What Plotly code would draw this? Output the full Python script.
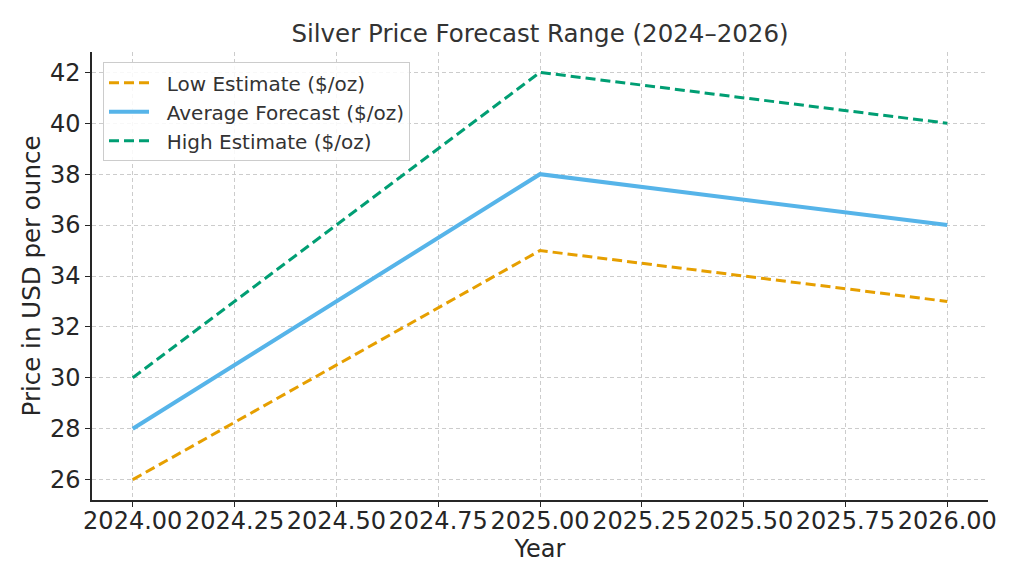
import plotly.graph_objects as go

years = [2024, 2025, 2026]
low_estimate = [26, 35, 33]
average_forecast = [28, 38, 36]
high_estimate = [30, 42, 40]

series_names = ["Low Estimate ($/oz)", "Average Forecast ($/oz)", "High Estimate ($/oz)"]
x_ticks = [2024.0, 2024.25, 2024.5, 2024.75, 2025.0, 2025.25, 2025.5, 2025.75, 2026.0]
y_ticks = [26, 28, 30, 32, 34, 36, 38, 40, 42]

FONT = "DejaVu Sans"
# page body has an 8px margin in the browser; compensate
OFF = 8
W, H = 1024 - OFF, 585 - OFF
PAD = "\u00a0\u00a0"

fig = go.Figure()
fig.add_trace(go.Scatter(x=years, y=low_estimate, mode="lines", name=PAD + series_names[0],
                         line=dict(color="#E69F00", width=3, dash="10px,5px")))
fig.add_trace(go.Scatter(x=years, y=average_forecast, mode="lines", name=PAD + series_names[1],
                         line=dict(color="#56B4E9", width=4)))
fig.add_trace(go.Scatter(x=years, y=high_estimate, mode="lines", name=PAD + series_names[2],
                         line=dict(color="#009E73", width=3, dash="10px,5px")))

axis_common = dict(
    showline=True, linecolor="#262626", linewidth=1.5,
    ticks="outside", ticklen=5, tickwidth=1.2, tickcolor="#262626",
    showgrid=True, gridcolor="#cccccc", gridwidth=1, griddash="4px,3px",
    zeroline=False, mirror=False,
    tickfont=dict(family=FONT, size=24, color="#262626"),
)

fig.update_layout(
    width=W, height=H,
    margin=dict(l=92 - OFF, r=36, t=52 - OFF, b=85, autoexpand=False),
    paper_bgcolor="white", plot_bgcolor="white",
    font=dict(family=FONT, color="#262626"),
    title=dict(text="Silver Price Forecast Range (2024–2026)", x=(540 - OFF) / W, xanchor="center",
               y=1 - (33 - OFF) / H, yanchor="middle", yref="container",
               font=dict(family=FONT, size=24.5, color="#333333")),
    xaxis=dict(range=[2023.9, 2026.1], tickvals=x_ticks, tickformat=".2f", tickangle=0,
               ticklabelstandoff=-7,
               title=dict(text="Year", font=dict(family=FONT, size=24, color="#262626"), standoff=4),
               **axis_common),
    yaxis=dict(range=[25.2, 42.8], tickvals=y_ticks,
               title=dict(text="Price in USD per ounce", font=dict(family=FONT, size=24.5, color="#262626"), standoff=2),
               **axis_common),
    legend=dict(x=0.0123, y=0.977, xanchor="left", yanchor="top",
                bgcolor="rgba(255,255,255,0.85)", bordercolor="#cccccc", borderwidth=1,
                font=dict(family=FONT, size=20, color="#333333"),
                itemwidth=40),
    showlegend=True,
)

fig.write_html("out.html")
